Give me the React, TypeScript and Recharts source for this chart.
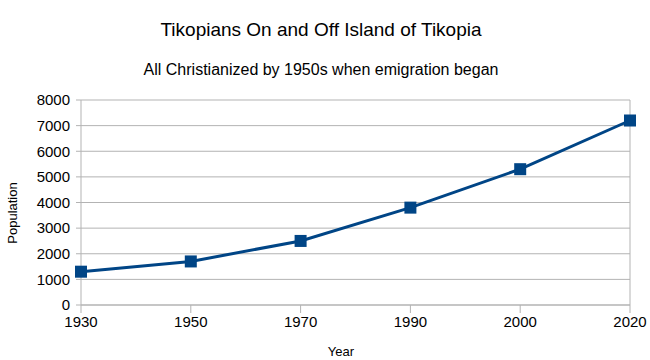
import React from 'react';
import { LineChart, Line, XAxis, YAxis, CartesianGrid, ReferenceLine } from 'recharts';

const years = ['1930', '1950', '1970', '1990', '2000', '2020'];
const population = [1300, 1700, 2500, 3800, 5300, 7200];
const yTicks = [0, 1000, 2000, 3000, 4000, 5000, 6000, 7000, 8000];

const data = years.map((year, i) => ({ year, population: population[i] }));

const FONT = '"Liberation Sans", Arial, sans-serif';
const GRID = '#b3b3b3';
const BLUE = '#004586';

const SquareDot = (props: any) => {
  const { cx, cy } = props;
  if (cx == null || cy == null) return null;
  return <rect x={cx - 6} y={cy - 6} width={12} height={12} fill={BLUE} />;
};

const App: React.FC = () => {
  return (
    <div style={{ position: 'absolute', left: 0, top: 0, width: 650, height: 360, background: '#fff', fontFamily: FONT }}>
      <div style={{ position: 'absolute', left: 0, top: 19, width: 642, textAlign: 'center', fontSize: 19, color: '#000' }}>
        Tikopians On and Off Island of Tikopia
      </div>
      <div style={{ position: 'absolute', left: 0, top: 61, width: 642, textAlign: 'center', fontSize: 16, color: '#000' }}>
        All Christianized by 1950s when emigration began
      </div>
      <LineChart width={650} height={360} data={data} margin={{ top: 100, right: 20, bottom: 5, left: 0 }}>
        <CartesianGrid vertical={false} stroke={GRID} />
        <ReferenceLine x="2020" stroke={GRID} />
        <XAxis
          dataKey="year"
          height={50}
          stroke={GRID}
          tickSize={8}
          tickMargin={3}
          tick={{ fill: '#000', fontSize: 15, fontFamily: FONT }}
          interval={0}
        />
        <YAxis
          width={81}
          domain={[0, 8000]}
          ticks={yTicks}
          interval={0}
          stroke={GRID}
          tickSize={5}
          tickMargin={6}
          tick={{ fill: '#000', fontSize: 15, fontFamily: FONT }}
        />
        <Line
          type="linear"
          dataKey="population"
          stroke={BLUE}
          strokeWidth={3}
          dot={<SquareDot />}
          activeDot={false}
          isAnimationActive={false}
        />
      </LineChart>
      <div
        style={{
          position: 'absolute',
          left: 12,
          top: 213,
          transform: 'translate(-50%, -50%) rotate(-90deg)',
          fontSize: 13,
          whiteSpace: 'nowrap',
          color: '#000',
        }}
      >
        Population
      </div>
      <div
        style={{
          position: 'absolute',
          left: 341,
          top: 351,
          transform: 'translate(-50%, -50%)',
          fontSize: 13,
          whiteSpace: 'nowrap',
          color: '#000',
        }}
      >
        Year
      </div>
    </div>
  );
};

export default App;
